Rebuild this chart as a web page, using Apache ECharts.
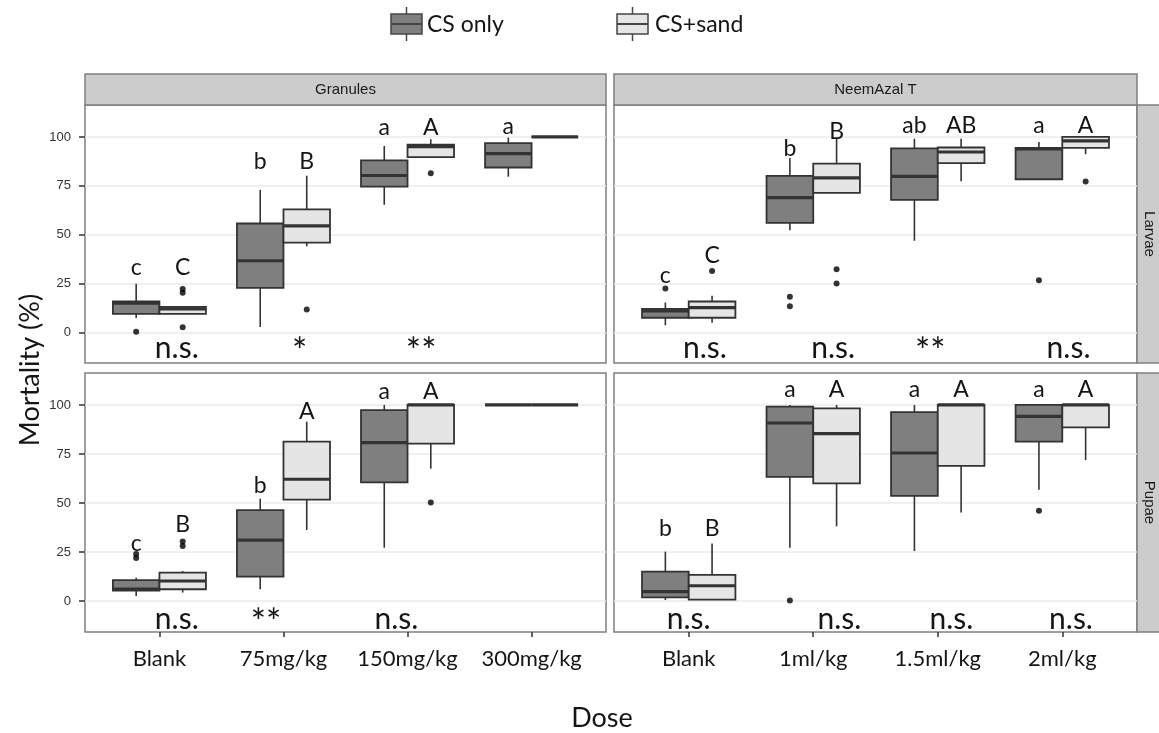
<!DOCTYPE html>
<html><head><meta charset="utf-8">
<script src="https://cdn.jsdelivr.net/npm/echarts@6/dist/echarts.min.js"></script>
<style>html,body{margin:0;padding:0;background:#fff}#c{width:1159px;height:733px}</style>
</head><body><div id="c"></div>
<script>
// ---------- data ----------
const granulesDoses = ['Blank', '75mg/kg', '150mg/kg', '300mg/kg'];
const neemDoses = ['Blank', '1ml/kg', '1.5ml/kg', '2ml/kg'];
const groupNames = ['CS only', 'CS+sand'];
const formulations = ['Granules', 'NeemAzal T'];
const stages = ['Larvae', 'Pupae'];
const yTickValues = [0, 25, 50, 75, 100];
const xTickValues = [1, 2, 3, 4];

// box stats per dose: [low whisker, Q1, median, Q3, high whisker]
const granLarvaeCS   = [[7.6, 9.7, 15.2, 16.1, 25.1], [3, 22.9, 36.8, 55.8, 73], [65.4, 74.6, 80.3, 88, 95.4], [79.7, 84.4, 91.5, 96.8, 99.7]];
const granLarvaeSand = [[9.7, 9.7, 12.2, 13.2, 13.2], [44.2, 46, 54.6, 63, 80.2], [89.7, 89.7, 95.1, 96.1, 98.8], [100, 100, 100, 100, 100]];
const neemLarvaeCS   = [[3.9, 7.7, 11.2, 12.2, 15.5], [52.4, 56.1, 69, 80.1, 89.3], [47, 67.9, 79.9, 94.2, 99.1], [78.4, 78.4, 93.9, 94.4, 97.4]];
const neemLarvaeSand = [[5.1, 7.7, 12.9, 16, 18.9], [71.4, 71.4, 79.1, 86.4, 99.1], [77.4, 86.6, 92.3, 94.6, 99.1], [91.2, 94.4, 98, 100, 100]];
const granPupaeCS    = [[2.6, 5.3, 6.1, 10.7, 11.9], [6, 12.4, 31.1, 46.4, 52.2], [27.2, 60.5, 80.8, 97.4, 100], [100, 100, 100, 100, 100]];
const granPupaeSand  = [[4.3, 6, 10.2, 14.5, 15.3], [36.2, 51.7, 62.1, 81.3, 91.5], [67.5, 80.3, 100, 100, 100], [100, 100, 100, 100, 100]];
const neemPupaeCS    = [[0.5, 1.9, 4.8, 15, 25.2], [27.2, 63.3, 90.8, 99.1, 100], [25.5, 53.6, 75.5, 96.3, 100], [56.8, 81.3, 94.2, 100, 100]];
const neemPupaeSand  = [[0.7, 0.7, 7.8, 13.3, 29.4], [38.1, 60, 85.4, 98.3, 100], [45.2, 68.9, 100, 100, 100], [71.9, 88.6, 100, 100, 100]];

// outliers: [dose number, value]
const granLarvaeCSOut   = [[1, 0.5]];
const granLarvaeSandOut = [[1, 2.9], [1, 20.5], [1, 22.4], [2, 11.9], [3, 81.5]];
const neemLarvaeCSOut   = [[1, 22.6], [2, 18.4], [2, 13.6], [4, 26.9]];
const neemLarvaeSandOut = [[1, 31.6], [2, 32.5], [2, 25.2], [4, 77.2]];
const granPupaeCSOut    = [[1, 22], [1, 24]];
const granPupaeSandOut  = [[1, 28], [1, 30.3], [3, 50.3]];
const neemPupaeCSOut    = [[2, 0.3], [4, 46.1]];
const neemPupaeSandOut  = [];

// letters: [dose number, group (0 CS only, 1 CS+sand), y, text]
const granLarvaeLetters = [[1, 0, 33.5, 'c'], [1, 1, 33.5, 'C'], [2, 0, 87.5, 'b'], [2, 1, 87.5, 'B'], [3, 0, 104.7, 'a'], [3, 1, 104.7, 'A'], [4, 0, 105.5, 'a']];
const neemLarvaeLetters = [[1, 0, 29.4, 'c'], [1, 1, 39.6, 'C'], [2, 0, 94, 'b'], [2, 1, 102.6, 'B'], [3, 0, 106, 'ab'], [3, 1, 106, 'AB'], [4, 0, 106, 'a'], [4, 1, 106, 'A']];
const granPupaeLetters  = [[1, 0, 29.4, 'c'], [1, 1, 38.8, 'B'], [2, 0, 58.8, 'b'], [2, 1, 96.6, 'A'], [3, 0, 107, 'a'], [3, 1, 107, 'A']];
const neemPupaeLetters  = [[1, 0, 36.7, 'b'], [1, 1, 36.7, 'B'], [2, 0, 107.6, 'a'], [2, 1, 107.6, 'A'], [3, 0, 107.6, 'a'], [3, 1, 107.6, 'A'], [4, 0, 107.6, 'a'], [4, 1, 107.6, 'A']];

// significance notes: [x, y, text]
const granLarvaeNotes = [[1.14, -8, 'n.s.'], [2.13, -8, '*'], [3.11, -8, '**']];
const neemLarvaeNotes = [[1.13, -8, 'n.s.'], [2.16, -8, 'n.s.'], [2.94, -8, '**'], [4.05, -8, 'n.s.']];
const granPupaeNotes  = [[1.14, -9.5, 'n.s.'], [1.86, -9.5, '**'], [2.91, -9.5, 'n.s.']];
const neemPupaeNotes  = [[1.0, -9.5, 'n.s.'], [2.21, -9.5, 'n.s.'], [3.11, -9.5, 'n.s.'], [4.07, -9.5, 'n.s.']];

// ---------- layout / style ----------
const DODGE = 0.1875, HALF = 0.1875;
const DARK = '#7f7f7f', LIGHT = '#e5e5e5', EDGE = '#333333';
const TXT = "'Lato', 'Open Sans', sans-serif";
const AX = "'Liberation Sans', Arial, sans-serif";
const gridRects = [
  {left: 85, top: 105, width: 521, height: 258},
  {left: 614, top: 105, width: 523, height: 258},
  {left: 85, top: 373, width: 521, height: 259},
  {left: 614, top: 373, width: 523, height: 259}
];
const yRanges = [[-15.4, 116.3], [-15.4, 116.3], [-15.8, 116.3], [-15.8, 116.3]];

const panels = [
  {cs: granLarvaeCS, sand: granLarvaeSand, csOut: granLarvaeCSOut, sandOut: granLarvaeSandOut, letters: granLarvaeLetters, notes: granLarvaeNotes, doses: granulesDoses},
  {cs: neemLarvaeCS, sand: neemLarvaeSand, csOut: neemLarvaeCSOut, sandOut: neemLarvaeSandOut, letters: neemLarvaeLetters, notes: neemLarvaeNotes, doses: neemDoses},
  {cs: granPupaeCS, sand: granPupaeSand, csOut: granPupaeCSOut, sandOut: granPupaeSandOut, letters: granPupaeLetters, notes: granPupaeNotes, doses: granulesDoses},
  {cs: neemPupaeCS, sand: neemPupaeSand, csOut: neemPupaeCSOut, sandOut: neemPupaeSandOut, letters: neemPupaeLetters, notes: neemPupaeNotes, doses: neemDoses}
];

function boxRender(params, api) {
  const dose = api.value(0), g = api.value(1);
  const xc = dose + (g === 0 ? -DODGE : DODGE);
  const lo = api.coord([xc, api.value(2)]);
  const q1 = api.coord([xc - HALF, api.value(3)]);
  const md = api.coord([xc, api.value(4)]);
  const q3 = api.coord([xc + HALF, api.value(5)]);
  const hi = api.coord([xc, api.value(6)]);
  const x0 = q1[0], x1 = q3[0];
  return {type: 'group', children: [
    {type: 'line', shape: {x1: lo[0], y1: lo[1], x2: lo[0], y2: q1[1]}, style: {stroke: EDGE, lineWidth: 1.6}},
    {type: 'line', shape: {x1: hi[0], y1: q3[1], x2: hi[0], y2: hi[1]}, style: {stroke: EDGE, lineWidth: 1.6}},
    {type: 'rect', shape: {x: x0, y: q3[1], width: x1 - x0, height: q1[1] - q3[1]}, style: {fill: g === 0 ? DARK : LIGHT, stroke: EDGE, lineWidth: 1.8}},
    {type: 'line', shape: {x1: x0, y1: md[1], x2: x1, y2: md[1]}, style: {stroke: EDGE, lineWidth: 3.2}}
  ]};
}
function textRender(texts, size, starSize) {
  return function (params, api) {
    const p = api.coord([api.value(0), api.value(1)]);
    const t = texts[params.dataIndex];
    const isStar = t.indexOf('*') >= 0;
    return {type: 'text', x: p[0], y: p[1] + (isStar ? 4 : 0), style: {text: t, font: (isStar ? starSize : size) + 'px ' + TXT,
      fill: '#151515', align: 'center', verticalAlign: 'middle'}};
  };
}

const grid = [], xAxis = [], yAxis = [], series = [];
panels.forEach((P, i) => {
  const r = gridRects[i];
  const left = i % 2 === 0, bottom = i >= 2;
  grid.push(Object.assign({show: true, borderColor: '#7f7f7f', borderWidth: 1.5, backgroundColor: '#fff', containLabel: false}, r));
  xAxis.push({type: 'value', gridIndex: i, min: 0.4, max: 4.6, position: 'bottom',
    axisLine: {show: false, onZero: false}, splitLine: {show: false},
    axisTick: {show: bottom, customValues: xTickValues, length: 5, lineStyle: {color: '#333', width: 1.5}},
    axisLabel: {show: bottom, customValues: xTickValues, margin: 16, fontFamily: TXT, fontSize: 22, color: '#151515',
      formatter: v => P.doses[Math.round(v) - 1]}
  });
  yAxis.push({type: 'value', gridIndex: i, min: yRanges[i][0], max: yRanges[i][1], position: 'left',
    axisLine: {show: false, onZero: false},
    splitLine: {show: true, lineStyle: {color: '#ebebeb', width: 1.5}},
    axisTick: {show: left, customValues: yTickValues, length: 6, lineStyle: {color: '#333', width: 1.5}},
    axisLabel: {show: left, customValues: yTickValues, margin: 14, fontFamily: AX, fontSize: 13, color: '#333'}
  });
  const boxData = [];
  P.cs.forEach((s, d) => boxData.push([d + 1, 0].concat(s)));
  P.sand.forEach((s, d) => boxData.push([d + 1, 1].concat(s)));
  series.push({type: 'custom', xAxisIndex: i, yAxisIndex: i, renderItem: boxRender, data: boxData,
    encode: {x: 0, y: [2, 3, 4, 5, 6]}, silent: true, z: 2});
  const outData = P.csOut.map(o => [o[0] - DODGE, o[1]]).concat(P.sandOut.map(o => [o[0] + DODGE, o[1]]));
  series.push({type: 'scatter', xAxisIndex: i, yAxisIndex: i, data: outData, symbolSize: 6,
    itemStyle: {color: '#000'}, silent: true, z: 3});
  series.push({type: 'custom', xAxisIndex: i, yAxisIndex: i, z: 5, silent: true,
    renderItem: textRender(P.letters.map(l => l[3]), 23, 23),
    data: P.letters.map(l => [l[0] + (l[1] === 0 ? -DODGE : DODGE), l[2]]), encode: {x: 0, y: 1}});
  series.push({type: 'custom', xAxisIndex: i, yAxisIndex: i, z: 5, silent: true,
    renderItem: textRender(P.notes.map(n => n[2]), 30, 36),
    data: P.notes.map(n => [n[0], n[1]]), encode: {x: 0, y: 1}});
});

function legendIcon(x, fill) {
  return {type: 'group', children: [
    {type: 'line', shape: {x1: x + 15.5, y1: 7, x2: x + 15.5, y2: 14}, style: {stroke: '#444', lineWidth: 1.5}},
    {type: 'line', shape: {x1: x + 15.5, y1: 34, x2: x + 15.5, y2: 41}, style: {stroke: '#444', lineWidth: 1.5}},
    {type: 'rect', shape: {x: x, y: 14, width: 31, height: 20}, style: {fill: fill, stroke: '#444', lineWidth: 1.5}},
    {type: 'line', shape: {x1: x, y1: 24, x2: x + 31, y2: 24}, style: {stroke: '#444', lineWidth: 2}}
  ]};
}
const graphic = [
  legendIcon(391, DARK),
  {type: 'text', x: 427, y: 25, style: {text: groupNames[0], font: '23px ' + TXT, fill: '#151515', verticalAlign: 'middle'}},
  legendIcon(617, LIGHT),
  {type: 'text', x: 655, y: 25, style: {text: groupNames[1], font: '23px ' + TXT, fill: '#151515', verticalAlign: 'middle'}},
  // top strips
  {type: 'rect', shape: {x: 85, y: 74, width: 521, height: 31}, style: {fill: '#cccccc', stroke: '#7f7f7f', lineWidth: 1.5}},
  {type: 'text', x: 345.5, y: 90, style: {text: formulations[0], font: '15px ' + AX, fill: '#1a1a1a', align: 'center', verticalAlign: 'middle'}},
  {type: 'rect', shape: {x: 614, y: 74, width: 523, height: 31}, style: {fill: '#cccccc', stroke: '#7f7f7f', lineWidth: 1.5}},
  {type: 'text', x: 875.5, y: 90, style: {text: formulations[1], font: '15px ' + AX, fill: '#1a1a1a', align: 'center', verticalAlign: 'middle'}},
  // right strips
  {type: 'rect', shape: {x: 1137, y: 105, width: 40, height: 258}, style: {fill: '#cccccc', stroke: '#7f7f7f', lineWidth: 1.5}},
  {type: 'text', x: 1149, y: 234, rotation: -Math.PI / 2, style: {text: stages[0], font: '15px ' + AX, fill: '#1a1a1a', align: 'center', verticalAlign: 'middle'}},
  {type: 'rect', shape: {x: 1137, y: 373, width: 40, height: 259}, style: {fill: '#cccccc', stroke: '#7f7f7f', lineWidth: 1.5}},
  {type: 'text', x: 1149, y: 502.5, rotation: -Math.PI / 2, style: {text: stages[1], font: '15px ' + AX, fill: '#1a1a1a', align: 'center', verticalAlign: 'middle'}},
  // axis titles
  {type: 'text', x: 30, y: 370, rotation: Math.PI / 2, style: {text: 'Mortality (%)', font: '27px ' + TXT, fill: '#151515', align: 'center', verticalAlign: 'middle'}},
  {type: 'text', x: 602, y: 718, style: {text: 'Dose', font: '27px ' + TXT, fill: '#151515', align: 'center', verticalAlign: 'middle'}}
];

const chart = echarts.init(document.getElementById('c'), null, {renderer: 'canvas'});
chart.setOption({animation: false, backgroundColor: '#fff', grid, xAxis, yAxis, series, graphic});
</script>
</body></html>
